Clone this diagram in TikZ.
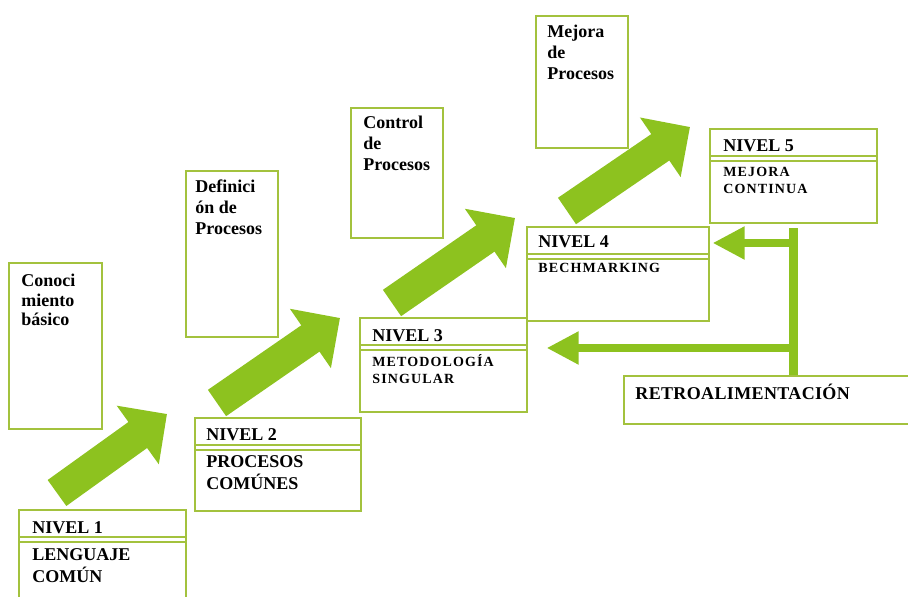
\documentclass[tikz,border=0pt]{standalone}
\usepackage{fontspec}
\setmainfont{Liberation Serif}
\usetikzlibrary{arrows.meta}

\definecolor{limegreen}{HTML}{8DC21F}
\definecolor{boxline}{HTML}{A3C23E}

\begin{document}
\begin{tikzpicture}[x=0.5pt, y=-0.5pt,
    box/.style={draw=boxline, line width=0.8pt, inner sep=0pt, anchor=north west},
    title/.style={inner sep=0pt, anchor=base west, font=\fontsize{9}{10}\selectfont\bfseries},
    desc/.style={inner sep=0pt, anchor=base west, align=left, font=\fontsize{9}{11}\selectfont\bfseries},
    small/.style={inner sep=0pt, anchor=base west, align=left,
        font=\fontsize{7}{8.5}\selectfont\bfseries\addfontfeature{LetterSpace=8}},
    topic/.style={inner sep=0pt, anchor=base west, align=left, font=\fontsize{9}{10.5}\selectfont\bfseries},
    bigarrow/.style={limegreen, line width=16pt, -{Triangle[length=18pt, width=35pt]}},
    fbarrow/.style={limegreen, line width=4pt, -{Triangle[length=16pt, width=15.5pt]}},
    fbline/.style={limegreen, line width=4.5pt}]

    \useasboundingbox (0,0) rectangle (908,597);

    % top boxes (multi-line texts sit on the baseline of their last line)
        \node[box, minimum width=46.5pt, minimum height=83pt] (c1) at (8,262) {};
        \node[box, minimum width=46pt, minimum height=83pt] (c2) at (185,170) {};
        \node[box, minimum width=46pt, minimum height=65pt] (c3) at (350,107) {};
        \node[box, minimum width=46pt, minimum height=66pt] (c4) at (535,15) {};

        \node[topic, font=\fontsize{9}{9.8}\selectfont\bfseries] (c1t) at (21,326) {Conoci\\miento\\básico};
        \node[topic] (c2t) at (195,235) {Definici\\ón de\\Procesos};
        \node[topic] (c3t) at (363,171) {Control\\de\\Procesos};
        \node[topic] (c4t) at (547,80) {Mejora\\de\\Procesos};

    % level boxes
        \node[box, minimum width=83.5pt, minimum height=56pt] (n1) at (18,509) {};
        \node[box, minimum width=83pt, minimum height=46.5pt] (n2) at (194,417) {};
        \node[box, minimum width=83.5pt, minimum height=47pt] (n3) at (359,317) {};
        \node[box, minimum width=91pt, minimum height=47pt] (n4) at (526,226) {};
        \node[box, minimum width=83.5pt, minimum height=47pt] (n5) at (709,128) {};
        \node[box, minimum width=146pt, minimum height=24pt] (retro) at (623,375) {};

        \foreach \b in {n1,n2,n3,n4,n5} {
            \draw[boxline, line width=0.8pt]
                ([yshift=-14pt]\b.north west) -- ([yshift=-14pt]\b.north east);
            \draw[boxline, line width=0.8pt]
                ([yshift=-16.5pt]\b.north west) -- ([yshift=-16.5pt]\b.north east);
        }

        \node[title] (t1) at (32,533) {NIVEL 1};
        \node[title] (t2) at (206,441) {NIVEL 2};
        \node[title] (t3) at (372,342) {NIVEL 3};
        \node[title] (t4) at (538,248) {NIVEL 4};
        \node[title] (t5) at (723,152) {NIVEL 5};

        \node[desc] (d1) at (32,582) {LENGUAJE\\COMÚN};
        \node[desc] (d2) at (206,489) {PROCESOS\\COMÚNES};
        \node[small] (d3) at (372,384) {METODOLOGÍA\\SINGULAR};
        \node[small] (d4) at (538,273) {BECHMARKING};
        \node[small] (d5) at (723,194) {MEJORA\\CONTINUA};

        \node[title, font=\fontsize{9}{10}\selectfont\bfseries\addfontfeature{LetterSpace=2}]
            (rt) at (635,400) {RETROALIMENTACIÓN};

    % big arrows
        \coordinate (a1s) at (57,493);  \coordinate (a1e) at (167,414);
        \coordinate (a2s) at (217,403); \coordinate (a2e) at (340,318);
        \coordinate (a3s) at (392,303); \coordinate (a3e) at (515,218);
        \coordinate (a4s) at (567,211); \coordinate (a4e) at (690,127);

        \draw[bigarrow] (a1s) -- (a1e);
        \draw[bigarrow] (a2s) -- (a2e);
        \draw[bigarrow] (a3s) -- (a3e);
        \draw[bigarrow] (a4s) -- (a4e);

    % feedback
        \coordinate (fb) at (793,0);
        \coordinate (fb4) at (793,243);
        \coordinate (fb3) at (793,348);
        \draw[fbline] (retro.north -| fb) -- ([yshift=-2pt]n5.south -| fb);
        \draw[fbarrow] (fb4) -- ([xshift=1.5pt]n4.east |- fb4);
        \draw[fbarrow] (fb3) -- ([xshift=9.5pt]n3.east |- fb3);

\end{tikzpicture}
\end{document}
